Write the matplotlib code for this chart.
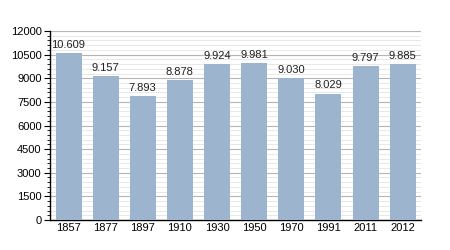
import matplotlib
matplotlib.use("Agg")
import matplotlib.pyplot as plt
from matplotlib.ticker import MultipleLocator

years = ["1857", "1877", "1897", "1910", "1930", "1950", "1970", "1991", "2011", "2012"]
population = [10609, 9157, 7893, 8878, 9924, 9981, 9030, 8029, 9797, 9885]
labels = ["10.609", "9.157", "7.893", "8.878", "9.924", "9.981", "9.030", "8.029", "9.797", "9.885"]

plt.rcParams['font.family'] = ['Liberation Sans', 'DejaVu Sans']
fig = plt.figure(figsize=(4.5, 2.5), dpi=100)
ax = fig.add_axes([0.111, 0.12, 0.825, 0.756])

x = range(len(years))
ax.bar(x, population, width=0.7, color="#9cb4cd", zorder=3)
for xi, v, lab in zip(x, population, labels):
    ax.text(xi, v + 200, lab, ha="center", va="bottom", fontsize=8, color="#222222", zorder=4)

ax.set_xlim(-0.5, len(years) - 0.5)
ax.set_ylim(0, 12000)
ax.yaxis.set_major_locator(MultipleLocator(1500))
ax.yaxis.set_minor_locator(MultipleLocator(300))
ax.grid(which="major", axis="y", color="#b5b5b5", linewidth=0.8, zorder=1)
ax.grid(which="minor", axis="y", color="#e4e4e4", linewidth=0.6, zorder=1)
ax.set_xticks(list(x))
ax.set_xticklabels(years)
ax.tick_params(axis="x", length=0, labelsize=8, pad=2)
ax.tick_params(axis="y", which="major", direction="out", length=4, width=0.8, labelsize=8, pad=2)
ax.tick_params(axis="y", which="minor", direction="out", length=2.5, width=0.6)
for s in ["top", "right"]:
    ax.spines[s].set_visible(False)
ax.spines["left"].set_linewidth(1.0)
ax.spines["bottom"].set_linewidth(1.0)
ax.set_facecolor("white")

fig.savefig("out.png", dpi=100)
